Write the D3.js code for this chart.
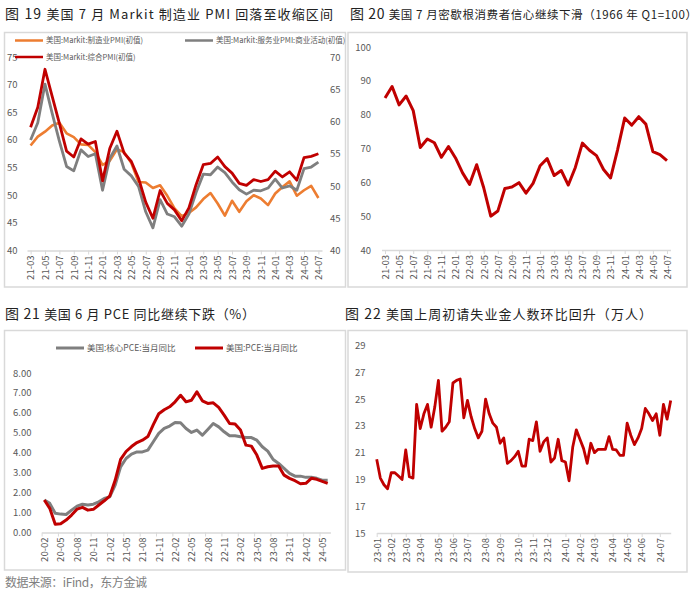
<!DOCTYPE html>
<html>
<head>
<meta charset="utf-8">
<title>US macro charts</title>
<script src="https://d3js.org/d3.v7.min.js"></script>
<style>
  body { margin: 0; padding: 0; background: #fff; }
  svg text { font-family: "Noto Sans CJK SC", "Noto Sans", sans-serif; }
</style>
</head>
<body>
<script>
// ---- fig 19: Markit flash PMI (21-03 .. 24-07)
var pmiMfg = [59.0,60.6,61.5,62.6,63.1,61.2,60.5,59.2,59.1,57.8,
              55.5,56.2,58.3,57.8,55.8,52.4,52.3,51.3,51.8,49.9,47.6,46.2,
              46.8,47.8,49.3,50.4,48.5,46.3,49.0,47.0,48.9,50.0,49.4,48.2,
              50.3,51.5,52.5,49.9,50.9,51.7,49.5];
var pmiSrv = [60.0,63.1,70.1,64.8,59.8,55.2,54.4,58.2,57.0,57.5,
              50.9,56.7,58.9,54.7,53.5,51.6,47.0,44.1,49.2,46.6,46.1,44.4,
              46.6,50.5,53.8,53.7,55.1,54.1,52.4,51.0,50.2,50.9,50.8,51.3,
              52.9,51.3,51.7,50.9,54.8,55.1,56.0];
var pmiComp = [59.1,62.2,68.1,63.9,59.7,55.4,54.5,57.3,56.5,56.9,
               50.8,55.8,58.5,55.1,53.8,51.2,47.5,45.0,49.3,47.3,46.3,44.6,
               46.6,50.2,53.3,53.5,54.5,53.0,52.0,50.4,50.1,51.0,50.7,51.0,
               52.3,51.4,52.2,50.9,54.4,54.6,55.0];
var monthTicks2 = ["21-03","21-05","21-07","21-09","21-11","22-01","22-03","22-05","22-07",
                   "22-09","22-11","23-01","23-03","23-05","23-07","23-09","23-11","24-01",
                   "24-03","24-05","24-07"];

// ---- fig 20: Michigan consumer sentiment (21-03 .. 24-07)
var umich = [84.9,88.3,82.9,85.5,81.2,70.3,72.8,71.7,67.4,70.6,
             67.2,62.8,59.4,65.2,58.4,50.0,51.5,58.2,58.6,59.9,56.8,59.7,
             64.9,67.0,62.0,63.5,59.2,64.4,71.6,69.5,67.9,63.8,61.3,69.7,
             79.0,76.9,79.4,77.2,69.1,68.2,66.4];

// ---- fig 21: PCE yoy (20-02 .. 24-06)
var pceCore = [1.61,1.44,0.94,0.90,0.88,1.10,1.30,1.40,1.36,1.40,1.52,1.69,
               1.77,2.36,3.28,3.70,3.92,4.03,4.03,4.12,4.54,4.96,5.21,
               5.33,5.51,5.50,5.21,5.01,5.13,4.87,5.16,5.46,5.29,5.04,4.84,
               4.84,4.79,4.76,4.75,4.62,4.29,4.07,3.65,3.45,3.20,2.95,2.81,
               2.81,2.75,2.75,2.70,2.61,2.61];
var pceAll = [1.61,1.19,0.39,0.41,0.60,0.85,1.15,1.24,1.10,1.14,1.36,1.57,
              1.80,2.60,3.65,4.05,4.30,4.50,4.62,4.80,5.40,5.95,6.15,
              6.30,6.55,6.88,6.55,6.63,7.05,6.60,6.47,6.50,6.27,5.88,5.46,
              5.43,5.13,4.37,4.32,3.87,3.20,3.28,3.32,3.32,2.86,2.70,2.58,
              2.43,2.45,2.70,2.65,2.55,2.45];
var pceTicks = ["20-02","20-05","20-08","20-11","21-02","21-05","21-08","21-11","22-02",
                "22-05","22-08","22-11","23-02","23-05","23-08","23-11","24-02","24-05"];

// ---- fig 22: initial jobless claims, weekly from 2023-01-07 (10k)
var claimsStart = [2023, 0, 7];
var claims = [20.5,19.1,18.6,18.3,19.5,19.5,19.25,19.0,21.2,19.2,19.1,24.6,22.8,23.9,24.6,
              22.9,24.4,26.4,22.6,22.9,23.3,26.2,26.4,26.5,23.6,24.9,23.7,22.8,22.1,22.6,
              25.0,23.9,23.2,22.9,21.7,22.1,20.2,20.4,20.7,21.1,20.0,20.0,22.0,
              21.9,23.3,21.1,21.8,22.1,20.3,20.6,22.0,20.4,20.3,18.9,21.4,22.7,22.0,21.3,
              20.2,21.7,21.0,21.25,21.25,21.25,22.2,21.25,21.2,20.8,20.8,23.2,22.3,21.6,
              22.1,22.8,24.3,23.9,23.4,23.9,22.3,24.6,23.5,24.9];
var claimTicks = ["23-01","23-02","23-03","23-04","23-05","23-06","23-07","23-08","23-09",
                  "23-10","23-11","23-12","24-01","24-02","24-03","24-04","24-05","24-06","24-07"];

var RED = "#c00000", GRAY = "#7f7f7f", ORANGE = "#ed7d31", TXT = "#595959";

function monthLabels(y, m, n) {
  var out = [];
  for (var i = 0; i < n; i++) {
    var d = new Date(y, m - 1 + i, 1);
    out.push(d3.timeFormat("%y-%m")(d));
  }
  return out;
}

var svg = d3.select("body").append("svg").attr("width", 700).attr("height", 593);
svg.append("rect").attr("width", 700).attr("height", 593).attr("fill", "#fff");

function frame(x0, y0, x1, y1) {
  svg.append("rect").attr("x", x0).attr("y", y0).attr("width", x1 - x0).attr("height", y1 - y0)
     .attr("fill", "none").attr("stroke", "#d9d9d9").attr("stroke-width", 1.5);
}

function title(x, y, head, rest, len, restSize) {
  var t = svg.append("text").attr("x", x).attr("y", y).attr("fill", "#222")
     .attr("textLength", len).attr("lengthAdjust", "spacing");
  t.append("tspan").attr("font-size", 14).text(head);
  t.append("tspan").attr("font-size", restSize || 13).text(rest);
}

function yAxis(scale, x, side, ticks, fmt) {
  var ax = (side === "left" ? d3.axisLeft(scale) : d3.axisRight(scale))
      .tickValues(ticks).tickSize(0).tickPadding(0).tickFormat(fmt || d3.format("d"));
  var g = svg.append("g").attr("transform", "translate(" + x + ",0)").call(ax);
  g.select(".domain").remove();
  g.selectAll("text").attr("fill", TXT).attr("font-size", 9.5)
    .style("font-family", "'Noto Sans CJK SC', sans-serif");
}

function xAxis(scale, y, ticks, fmt, shift) {
  var ax = d3.axisBottom(scale).tickValues(ticks).tickSize(4).tickSizeOuter(0);
  if (fmt) ax.tickFormat(fmt);
  var g = svg.append("g").attr("transform", "translate(0," + y + ")").call(ax);
  g.select(".domain").attr("stroke", "#d9d9d9").attr("stroke-width", 1.5);
  g.selectAll(".tick line").attr("stroke", "#d9d9d9").attr("x1", -shift).attr("x2", -shift);
  g.selectAll(".tick text").attr("fill", TXT).attr("font-size", 9.5)
    .attr("transform", "rotate(-90)").attr("text-anchor", "end")
    .attr("x", -5).attr("y", 0).attr("dy", "0.35em")
    .style("font-family", "'Noto Sans CJK SC', sans-serif");
}

function series(xs, ys, cats, vals, color, w) {
  var ln = d3.line().x(function(d, i) { return xs(cats[i]); }).y(function(d) { return ys(d); });
  svg.append("path").datum(vals).attr("d", ln).attr("fill", "none")
     .attr("stroke", color).attr("stroke-width", w).attr("stroke-linejoin", "round");
}

function legendItem(x, y, color, label, size, w) {
  svg.append("line").attr("x1", x).attr("x2", x + 28).attr("y1", y).attr("y2", y)
     .attr("stroke", color).attr("stroke-width", w);
  svg.append("text").attr("x", x + 31).attr("y", y).attr("dy", "0.35em")
     .attr("font-size", size).attr("fill", TXT).text(label);
}

// ================= fig 19
frame(4.5, 32.5, 345.5, 287);
title(5, 19, "图 19 ", "美国 7 月 Markit 制造业 PMI 回落至收缩区间", 328);
var pmiCats = monthLabels(2021, 3, 41);
var x1s = d3.scalePoint().domain(pmiCats).range([27, 322]).padding(0.5);
var yL = d3.scaleLinear().domain([40, 75]).range([250.5, 57]);
var yR = d3.scaleLinear().domain([40, 70]).range([250.5, 57]);
yAxis(yL, 7, "right", d3.range(40, 76, 5));
yAxis(yR, 330, "right", d3.range(40, 71, 5));
xAxis(x1s, 250.5, monthTicks2, null, 0);
series(x1s, yL, pmiCats, pmiMfg, ORANGE, 2.6);
series(x1s, yL, pmiCats, pmiSrv, GRAY, 2.8);
series(x1s, yR, pmiCats, pmiComp, RED, 2.8);
legendItem(15, 40.5, ORANGE, "美国:Markit:制造业PMI(初值)", 7.5, 2.5);
legendItem(185, 40.5, GRAY, "美国:Markit:服务业PMI:商业活动(初值)", 7.5, 2.5);
legendItem(15, 57, RED, "美国:Markit:综合PMI(初值)", 7.5, 2.5);

// ================= fig 20
frame(348, 32.5, 687, 287);
title(350, 19, "图 20 ", "美国 7 月密歇根消费者信心继续下滑（1966 年 Q1=100）", 347, 11.5);
var x2s = d3.scalePoint().domain(pmiCats).range([381.5, 670.5]).padding(0.5);
var y2s = d3.scaleLinear().domain([40, 100]).range([250, 47]);
yAxis(y2s, 371, "left", d3.range(40, 101, 10));
xAxis(x2s, 250, monthTicks2, null, 0);
series(x2s, y2s, pmiCats, umich, RED, 3);

// ================= fig 21
frame(4.5, 330.5, 345.5, 570);
title(5, 319, "图 21 ", "美国 6 月 PCE 同比继续下跌（%）", 250);
var pceCats = monthLabels(2020, 2, 53);
var x3s = d3.scalePoint().domain(pceCats).range([41.6, 330.4]).padding(0.5);
var y3s = d3.scaleLinear().domain([0, 8]).range([532, 373]);
yAxis(y3s, 13, "right", d3.range(0, 9, 1), d3.format(".2f"));
xAxis(x3s, 532.5, pceTicks, null, x3s.step() / 2);
series(x3s, y3s, pceCats, pceCore, GRAY, 3);
series(x3s, y3s, pceCats, pceAll, RED, 3);
legendItem(56, 348, GRAY, "美国:核心PCE:当月同比", 8.5, 3);
legendItem(195, 348, RED, "美国:PCE:当月同比", 8.5, 3);

// ================= fig 22
frame(348, 330.5, 687, 572);
title(345, 319, "图 22 ", "美国上周初请失业金人数环比回升（万人）", 307);
var claimDates = claims.map(function(d, i) {
  return new Date(claimsStart[0], claimsStart[1], claimsStart[2] + 7 * i);
});
var fmtYM = d3.timeFormat("%y-%m");
var x4s = d3.scaleTime().domain([claimDates[0], claimDates[claimDates.length - 1]]).range([376.7, 670.7]);
var y4s = d3.scaleLinear().domain([15, 29]).range([533, 345.5]);
var claimTickDates = claimTicks.map(function(lab) {
  return claimDates.find(function(d) { return fmtYM(d) === lab; });
});
yAxis(y4s, 355, "right", d3.range(15, 30, 2));
xAxis(x4s, 533, claimTickDates, fmtYM, 0);
series(x4s, y4s, claimDates, claims, RED, 2.8);

// source
svg.append("text").attr("x", 5).attr("y", 587).attr("font-size", 12).attr("fill", "#808080")
   .attr("textLength", 142).attr("lengthAdjust", "spacing").text("数据来源：iFind，东方金诚");
</script>
</body>
</html>
